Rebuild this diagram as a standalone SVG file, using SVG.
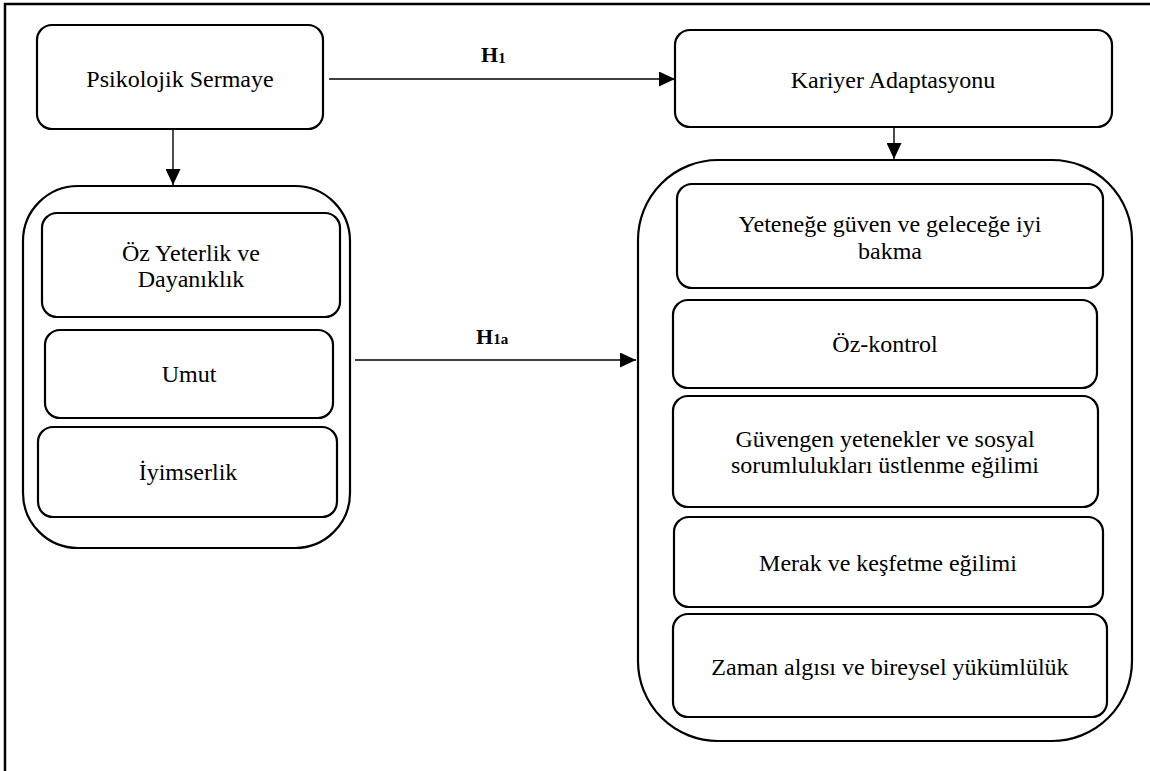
<svg xmlns="http://www.w3.org/2000/svg" width="1150" height="771" viewBox="0 0 1150 771">
<style>
.box{fill:#fff;stroke:#000;stroke-width:2.2}
.t{font-family:"Liberation Serif","Times New Roman",serif;font-size:24px;fill:#000;text-anchor:middle}
.h{font-family:"Liberation Serif","Times New Roman",serif;font-weight:bold;fill:#000}
.c{fill:none;stroke:#000;stroke-width:1.4}
</style>
<defs>
<marker id="arr" markerUnits="userSpaceOnUse" markerWidth="16" markerHeight="15" refX="16" refY="7.5" orient="auto">
<path d="M0,0 L16,7.5 L0,15 z" fill="#000"/>
</marker>
</defs>
<rect x="5" y="4" width="1160" height="800" fill="#fff" stroke="#000" stroke-width="2.5"/>
<g id="psikolojik-sermaye">
<rect class="box" x="37" y="25" width="286" height="104" rx="15"/>
<text class="t" x="180" y="87">Psikolojik Sermaye</text>
</g>
<g id="kariyer-adaptasyonu">
<rect class="box" x="675" y="30" width="437" height="97" rx="15"/>
<text class="t" x="893" y="88">Kariyer Adaptasyonu</text>
</g>
<g id="ps-group">
<rect class="box" x="23" y="186" width="327" height="362" rx="55"/>
</g>
<g id="oz-yeterlik">
<rect class="box" x="42" y="213" width="298" height="104" rx="15"/>
<text class="t" x="191" y="261">Öz Yeterlik ve</text>
<text class="t" x="191" y="287">Dayanıklık</text>
</g>
<g id="umut">
<rect class="box" x="45" y="330" width="288" height="88" rx="15"/>
<text class="t" x="189" y="382">Umut</text>
</g>
<g id="iyimserlik">
<rect class="box" x="38" y="427" width="299" height="90" rx="15"/>
<text class="t" x="188" y="480">İyimserlik</text>
</g>
<g id="ka-group">
<rect class="box" x="638" y="160" width="494" height="581" rx="80"/>
</g>
<g id="yetenege-guven">
<rect class="box" x="677" y="184" width="426" height="104" rx="15"/>
<text class="t" x="890" y="232">Yeteneğe güven ve geleceğe iyi</text>
<text class="t" x="890" y="259">bakma</text>
</g>
<g id="oz-kontrol">
<rect class="box" x="673" y="300" width="424" height="88" rx="15"/>
<text class="t" x="885" y="352">Öz-kontrol</text>
</g>
<g id="guvengen">
<rect class="box" x="673" y="396" width="425" height="111" rx="15"/>
<text class="t" x="885" y="447">Güvengen yetenekler ve sosyal</text>
<text class="t" x="885" y="473">sorumlulukları üstlenme eğilimi</text>
</g>
<g id="merak">
<rect class="box" x="674" y="517" width="429" height="90" rx="15"/>
<text class="t" x="888" y="571">Merak ve keşfetme eğilimi</text>
</g>
<g id="zaman">
<rect class="box" x="673" y="614" width="434" height="103" rx="15"/>
<text class="t" x="890" y="675">Zaman algısı ve bireysel yükümlülük</text>
</g>
<g id="connectors">
<path class="c" d="M329,79 L675,79" marker-end="url(#arr)"/>
<path class="c" d="M355,360 L636,360" marker-end="url(#arr)"/>
<path class="c" d="M173,129 L173,185" marker-end="url(#arr)"/>
<path class="c" d="M894,127 L894,159" marker-end="url(#arr)"/>
<text class="h" x="481" y="62" font-size="22">H<tspan font-size="15" dy="1">1</tspan></text>
<text class="h" x="476" y="344" font-size="22">H<tspan font-size="15">1a</tspan></text>
</g>
</svg>
